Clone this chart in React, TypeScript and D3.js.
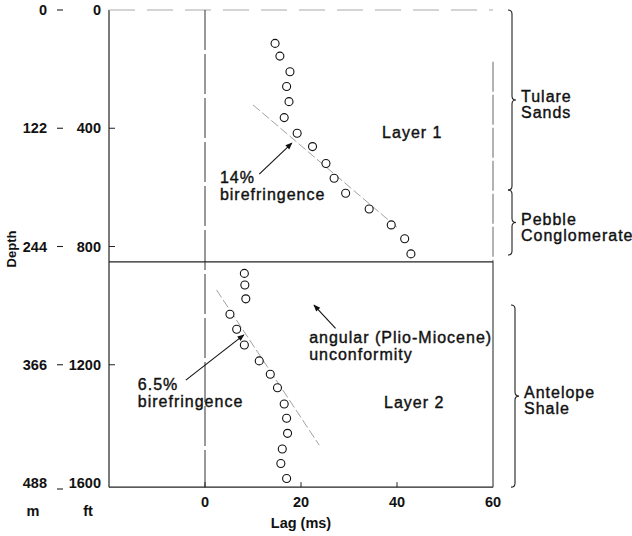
import React, { useEffect, useRef } from "react";
import * as d3 from "d3";

// lag (ms) and depth (ft)
const layer1Lag = [14.6, 15.6, 17.7, 17.0, 17.5, 16.5, 19.2, 22.4, 25.2, 26.9, 29.3, 34.2, 38.8, 41.6, 42.9];
const layer1Depth = [113, 156, 209, 259, 310, 364, 417, 462, 519, 569, 620, 673, 727, 774, 825];
const layer2Lag = [8.2, 8.3, 8.5, 5.2, 6.6, 8.2, 11.3, 13.6, 15.1, 16.5, 17.0, 17.2, 16.1, 15.8, 17.0];
const layer2Depth = [891, 930, 977, 1029, 1080, 1133, 1187, 1232, 1278, 1333, 1381, 1432, 1485, 1534, 1585];

const trend1 = [[10.0, 321], [40, 735]];
const trend2 = [[2.4, 947], [23.8, 1472]];

const boundaryDepth = 852;
const depthMax = 1614;

const ftTicks = [0, 400, 800, 1200, 1600];
const mTicks = ["0", "122", "244", "366", "488"];
const lagTicks = [0, 20, 40, 60];

const formations = ["Tulare|Sands", "Pebble|Conglomerate", "Antelope|Shale"];
const formationTop = [0, 609, 998];
const formationBottom = [609, 829, depthMax];

const App = () => {
	const ref = useRef<SVGSVGElement>(null);

	useEffect(() => {
		const svg = d3.select(ref.current);
		svg.selectAll("*").remove();

		const x = d3.scaleLinear().domain([-20, 60]).range([109, 493]);
		const y = d3.scaleLinear().domain([0, 1600]).range([10, 483]);

		const tickFont = "'Liberation Sans Narrow', 'Liberation Sans', Arial, sans-serif";
		const textFont = "'Liberation Sans', Arial, sans-serif";

		svg.append("defs")
			.append("marker")
			.attr("id", "arrow")
			.attr("viewBox", "0 0 10 10")
			.attr("refX", 9)
			.attr("refY", 5)
			.attr("markerWidth", 9)
			.attr("markerHeight", 7)
			.attr("markerUnits", "userSpaceOnUse")
			.attr("orient", "auto")
			.append("path")
			.attr("d", "M0,1 L10,5 L0,9 Z")
			.attr("fill", "#111");

		const g = svg.append("g");
		const xl = x(-20), xr = x(60), yt = y(0), yb = y(depthMax), yB = y(boundaryDepth);

		// frame
		g.append("line").attr("x1", xl).attr("x2", xl).attr("y1", yt).attr("y2", yb).attr("stroke", "#222").attr("stroke-width", 1.2);
		g.append("line").attr("x1", xl).attr("x2", xr).attr("y1", yb).attr("y2", yb).attr("stroke", "#222").attr("stroke-width", 1.2);
		g.append("line").attr("x1", xl).attr("x2", xr).attr("y1", yt).attr("y2", yt)
			.attr("stroke", "#aaa").attr("stroke-width", 1.1).attr("stroke-dasharray", "26,12");
		g.append("line").attr("x1", xr).attr("x2", xr).attr("y1", y(175)).attr("y2", yB)
			.attr("stroke", "#555").attr("stroke-width", 0.9).attr("stroke-dasharray", "30,3");
		g.append("line").attr("x1", xr).attr("x2", xr).attr("y1", yB).attr("y2", yb).attr("stroke", "#333").attr("stroke-width", 1.1);

		// zero line and layer boundary
		g.append("line").attr("x1", x(0)).attr("x2", x(0)).attr("y1", yt).attr("y2", yb)
			.attr("stroke", "#333").attr("stroke-width", 1).attr("stroke-dasharray", "40,4");
		g.append("line").attr("x1", xl).attr("x2", xr).attr("y1", yB).attr("y2", yB).attr("stroke", "#222").attr("stroke-width", 1.2);

		// inside ticks
		ftTicks.slice(1, 4).forEach((t) => {
			g.append("line").attr("x1", xl).attr("x2", xl + 6).attr("y1", y(t)).attr("y2", y(t)).attr("stroke", "#222");
		});
		lagTicks.slice(0, 3).forEach((t) => {
			g.append("line").attr("x1", x(t)).attr("x2", x(t)).attr("y1", yb).attr("y2", yb - 5).attr("stroke", "#222");
		});

		// depth labels, ft and m
		ftTicks.forEach((t, i) => {
			g.append("text").attr("x", 101).attr("y", y(t)).attr("dy", "0.36em")
				.attr("text-anchor", "end").attr("font-family", tickFont).attr("font-weight", "bold")
				.attr("font-size", 14.5).attr("fill", "#111").text(t);
			g.append("text").attr("x", 47).attr("y", y(t)).attr("dy", "0.36em")
				.attr("text-anchor", "end").attr("font-family", tickFont).attr("font-weight", "bold")
				.attr("font-size", 14.5).attr("fill", "#111").text(mTicks[i]);
			const dy = i === 4 ? 6 : 0;
			g.append("line").attr("x1", 57).attr("x2", 63).attr("y1", y(t) + dy).attr("y2", y(t) + dy)
				.attr("stroke", "#222").attr("stroke-width", 1.1);
		});

		lagTicks.forEach((t) => {
			g.append("text").attr("x", x(t)).attr("y", 507).attr("text-anchor", "middle")
				.attr("font-family", tickFont).attr("font-weight", "bold").attr("font-size", 14.5)
				.attr("fill", "#111").text(t);
		});

		g.append("text").attr("transform", `translate(16,${249}) rotate(-90)`).attr("text-anchor", "middle")
			.attr("font-family", tickFont).attr("font-weight", "bold").attr("font-size", 13).attr("fill", "#111").text("Depth");
		g.append("text").attr("x", 33).attr("y", 516).attr("text-anchor", "middle")
			.attr("font-family", tickFont).attr("font-weight", "bold").attr("font-size", 14.5).attr("fill", "#111").text("m");
		g.append("text").attr("x", 88).attr("y", 516).attr("text-anchor", "middle")
			.attr("font-family", tickFont).attr("font-weight", "bold").attr("font-size", 14.5).attr("fill", "#111").text("ft");
		g.append("text").attr("x", x(20)).attr("y", 528).attr("text-anchor", "middle")
			.attr("font-family", tickFont).attr("font-weight", "bold").attr("font-size", 14.5).attr("fill", "#111").text("Lag (ms)");

		// trend lines
		const line = d3.line<number[]>().x((d) => x(d[0])).y((d) => y(d[1]));
		[trend1, trend2].forEach((t) => {
			g.append("path").attr("d", line(t)).attr("fill", "none")
				.attr("stroke", "#888").attr("stroke-width", 0.8).attr("stroke-dasharray", "9,3");
		});

		// points
		const pts = layer1Lag.map((v, i) => [v, layer1Depth[i]])
			.concat(layer2Lag.map((v, i) => [v, layer2Depth[i]]));
		g.selectAll("circle.pt").data(pts).enter().append("circle")
			.attr("class", "pt")
			.attr("cx", (d) => x(d[0])).attr("cy", (d) => y(d[1])).attr("r", 4)
			.attr("fill", "#fff").attr("stroke", "#111").attr("stroke-width", 1.1);

		// arrows
		const arrows = [
			[[11.3, 555], [18.1, 450]],
			[[-4.0, 1252], [8.1, 1099]],
			[[27.2, 1077], [22.7, 998]],
		];
		arrows.forEach((a) => {
			g.append("line").attr("x1", x(a[0][0])).attr("y1", y(a[0][1]))
				.attr("x2", x(a[1][0])).attr("y2", y(a[1][1]))
				.attr("stroke", "#111").attr("stroke-width", 1.1).attr("marker-end", "url(#arrow)");
		});

		// annotation text
		const notes = [
			{ lag: 3.1, depth: 585, text: "14%|birefringence" },
			{ lag: -14, depth: 1286, text: "6.5%|birefringence" },
			{ lag: 21.7, depth: 1127, text: "angular (Plio-Miocene)|unconformity" },
			{ lag: 36.9, depth: 433, text: "Layer 1" },
			{ lag: 37.3, depth: 1346, text: "Layer 2" },
		];
		notes.forEach((n) => {
			const t = g.append("text").attr("x", x(n.lag)).attr("y", y(n.depth))
				.attr("font-family", textFont).attr("font-size", 16).attr("letter-spacing", 1)
				.attr("fill", "#111").attr("stroke", "#111").attr("stroke-width", 0.4);
			n.text.split("|").forEach((s, i) => {
				t.append("tspan").attr("x", x(n.lag)).attr("dy", i === 0 ? 0 : 17).text(s);
			});
		});

		// formation braces
		formations.forEach((f, i) => {
			const bx = i === 2 ? 515 : 512;
			const y0 = y(formationTop[i]), y1 = y(formationBottom[i]);
			const ym = (y0 + y1) / 2;
			const p = d3.path();
			p.moveTo(bx - 4, y0);
			p.quadraticCurveTo(bx, y0, bx, y0 + 4);
			p.lineTo(bx, ym - 4);
			p.quadraticCurveTo(bx, ym, bx + 4, ym);
			p.quadraticCurveTo(bx, ym, bx, ym + 4);
			p.lineTo(bx, y1 - 4);
			p.quadraticCurveTo(bx, y1, bx - 4, y1);
			g.append("path").attr("d", p.toString()).attr("fill", "none")
				.attr("stroke", "#222").attr("stroke-width", 1.1);
			const t = g.append("text").attr("x", bx + 9).attr("y", ym + 2)
				.attr("font-family", textFont).attr("font-size", 16).attr("letter-spacing", 1)
				.attr("fill", "#111").attr("stroke", "#111").attr("stroke-width", 0.4);
			f.split("|").forEach((s, k) => {
				t.append("tspan").attr("x", bx + 9).attr("dy", k === 0 ? 0 : 16).text(s);
			});
		});
	}, []);

	return (
		<svg
			ref={ref}
			width={632}
			height={536}
			style={{ position: "absolute", left: 0, top: 0, background: "#fff" }}
		/>
	);
};

export default App;
